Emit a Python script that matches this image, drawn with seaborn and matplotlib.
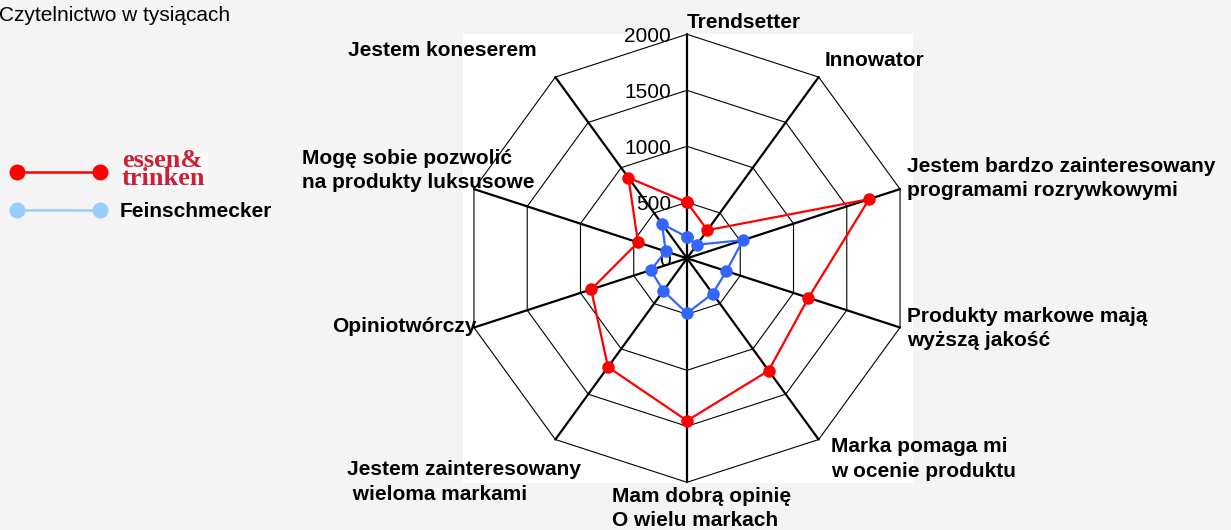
import numpy as np
import pandas as pd
import matplotlib
matplotlib.use("Agg")
import matplotlib.pyplot as plt
import seaborn as sns

# === Data ===
categories = [
    "Trendsetter",
    "Innowator",
    "Jestem bardzo zainteresowany\nprogramami rozrywkowymi",
    "Produkty markowe mają\nwyższą jakość",
    "Marka pomaga mi\nw ocenie produktu",
    "Mam dobrą opinię\nO wielu markach",
    "Jestem zainteresowany\n wieloma markami",
    "Opiniotwórczy",
    "Mogę sobie pozwolić\nna produkty luksusowe",
    "Jestem koneserem",
]
essen_trinken = [500, 310, 1710, 1140, 1240, 1450, 1200, 900, 460, 890]
feinschmecker = [190, 150, 525, 370, 390, 490, 360, 340, 200, 380]
ticks = [0, 500, 1000, 1500, 2000]
title = "Czytelnictwo w tysiącach"

# === Layout (pixels, top-left origin) ===
W, H = 1231, 530
label_xy = [(687, 28), (825, 66.5), (907, 172), (907, 321.5), (831, 452.5),
            (612, 502), (347, 475), (332, 331.5), (302, 164), (348, 56)]
LINE_STEP = 24.5

RED = "#ff0000"
BLUE = "#3366ff"
LEGEND_BLUE = "#99ccff"

sns.set_style("white")
plt.rcParams["font.family"] = ["Liberation Sans", "DejaVu Sans"]
plt.rcParams["text.color"] = "black"

fig = plt.figure(figsize=(W / 100, H / 100), dpi=100, facecolor="#f4f4f4")

# radar axes sits on the white panel; data units = readers (thousands)
px = 224 / 2000
left, right, top, bottom = 463, 913, 34, 483
cx, cy = 687, 258.3
ax = fig.add_axes([left / W, 1 - bottom / H, (right - left) / W, (bottom - top) / H])
ax.set_xlim((left - cx) / px, (right - cx) / px)
ax.set_ylim(-(bottom - cy) / px, (cy - top) / px)
ax.axis("off")
ax.add_patch(plt.Rectangle((0, 0), 1, 1, transform=ax.transAxes,
                           facecolor="white", edgecolor="none", zorder=0))

n = len(categories)
theta = 2 * np.pi * np.arange(n) / n
ring_theta = np.append(theta, theta[0])

# grid rings
for t in ticks[1:]:
    ax.plot(t * np.sin(ring_theta), t * np.cos(ring_theta), color="black",
            lw=0.8, zorder=1, clip_on=False)
# spokes
rmax = ticks[-1]
for a in theta:
    ax.plot([0, rmax * np.sin(a)], [0, rmax * np.cos(a)], color="black",
            lw=1.6, zorder=2, clip_on=False)

# tick labels
for t in ticks:
    ax.annotate(str(t), xy=(0, t), xytext=(-16, -7.5), textcoords="offset pixels",
                ha="right", va="baseline", fontsize=15, color="black", zorder=3)

# series
def radar_frame(values, name):
    v = np.append(values, values[0])
    return pd.DataFrame({"x": v * np.sin(ring_theta), "y": v * np.cos(ring_theta),
                         "series": name})

for vals, name, col in [(essen_trinken, "essen & trinken", RED),
                        (feinschmecker, "Feinschmecker", BLUE)]:
    df = radar_frame(vals, name)
    sns.lineplot(data=df, x="x", y="y", sort=False, estimator=None, ax=ax,
                 color=col, lw=1.6, marker="o", markersize=9,
                 markeredgewidth=0, legend=False, zorder=4)
for line in ax.lines:
    line.set_clip_on(False)

# overlay in pixel coordinates for labels and legend
lax = fig.add_axes([0, 0, 1, 1])
lax.set_xlim(0, W)
lax.set_ylim(H, 0)
lax.axis("off")

lax.text(-1, 20.7, title, fontsize=15, va="baseline", ha="left")

for label, (x, y) in zip(categories, label_xy):
    for i, line in enumerate(label.split("\n")):
        lax.text(x, y + i * LINE_STEP, line, fontsize=15, fontweight="bold",
                 va="baseline", ha="left")

# legend
lax.plot([17, 100], [171.5, 171.5], color=RED, lw=1.8, marker="o",
         markersize=11.5, markeredgewidth=0)
lax.plot([17, 100], [209.5, 209.5], color=LEGEND_BLUE, lw=1.8, marker="o",
         markersize=11.5, markeredgewidth=0)
lax.add_patch(plt.Rectangle((122, 152), 86, 37, facecolor="#fbfbfb",
                            edgecolor="none"))
lax.text(122, 190, "essen&\ntrinken", family="Liberation Serif",
         fontweight="bold", fontsize=19, color="#cc2036", va="bottom",
         ha="left", linespacing=0.72)
lax.text(120, 217, "Feinschmecker", fontsize=15, fontweight="bold",
         va="baseline", ha="left")

fig.savefig("out.png", dpi=100, facecolor=fig.get_facecolor())
